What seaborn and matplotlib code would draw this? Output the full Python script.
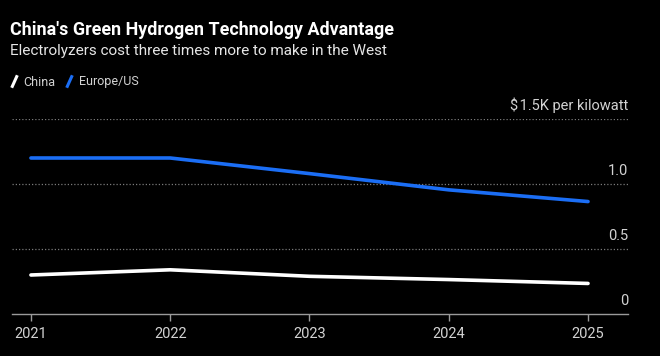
import pandas as pd
import matplotlib.pyplot as plt
import seaborn as sns
from matplotlib.lines import Line2D

years = [2021, 2022, 2023, 2024, 2025]
china = [0.30, 0.34, 0.29, 0.265, 0.235]
europe_us = [1.20, 1.20, 1.08, 0.955, 0.865]
y_ticks = [0, 0.5, 1.0, 1.5]
y_labels = ["0", "0.5", "1.0", "$\u200a1.5K per kilowatt"]

df = pd.DataFrame({
    "Year": years * 2,
    "Cost": china + europe_us,
    "Region": ["China"] * len(years) + ["Europe/US"] * len(years),
})

sns.set_theme(style="dark")
plt.rcParams["font.family"] = ["Roboto", "DejaVu Sans"]

colors = {"China": "#ffffff", "Europe/US": "#1b6ef5"}
grey = "#d2d2d2"

fig = plt.figure(figsize=(6.6, 3.56), dpi=100, facecolor="black")
ax = fig.add_axes([12 / 660, 1 - 314 / 356, 616 / 660, 195 / 356])
ax.set_facecolor("black")

sns.lineplot(data=df, x="Year", y="Cost", hue="Region", palette=colors,
             linewidth=2.6, legend=False, ax=ax)

ax.set_xlim(2020.864, 2025.287)
ax.set_ylim(0, 1.5)
ax.set_xticks(years)
ax.set_xticklabels([str(y) for y in years], color=grey, fontsize=10.5)
ax.tick_params(axis="x", length=5, width=1, color="#9a9a9a", pad=4,
               direction="out", bottom=True)
ax.set_yticks([])
ax.set_xlabel("")
ax.set_ylabel("")
for s in ["top", "left", "right"]:
    ax.spines[s].set_visible(False)
ax.spines["bottom"].set_color("#9a9a9a")
ax.spines["bottom"].set_linewidth(1)

for v, lab in zip(y_ticks, y_labels):
    if v > 0:
        ax.axhline(v, color="#7a7a7a", linestyle=(0, (1, 1.6)), linewidth=0.9,
                   zorder=0)
    ax.annotate(lab, xy=(1.0, v), xycoords=ax.get_yaxis_transform(),
                xytext=(0, 4.5), textcoords="offset points",
                ha="right", va="bottom", color=grey, fontsize=10.5)

fig.text(10 / 660, 1 - 30 / 356, "China's Green Hydrogen Technology Advantage",
         color="white", fontsize=12.9, fontweight="bold", va="center")
fig.text(10 / 660, 1 - 51 / 356, "Electrolyzers cost three times more to make in the West",
         color="#e6e6e6", fontsize=11, va="center")

handles = [
    Line2D([], [], marker=[(-0.45, -1), (0.45, 1)], markersize=9,
           markeredgewidth=2.2, linestyle="none", color=colors[k])
    for k in ["China", "Europe/US"]
]
fig.legend(handles, ["China", "Europe/US"], loc="center left",
           bbox_to_anchor=(8 / 660, 1 - 82 / 356), ncol=2, frameon=False,
           borderpad=0, borderaxespad=0,
           handlelength=0.9, handletextpad=0.35, columnspacing=0.6,
           labelcolor=grey, prop={"size": 9})

fig.savefig("out.png", dpi=100, facecolor="black")
